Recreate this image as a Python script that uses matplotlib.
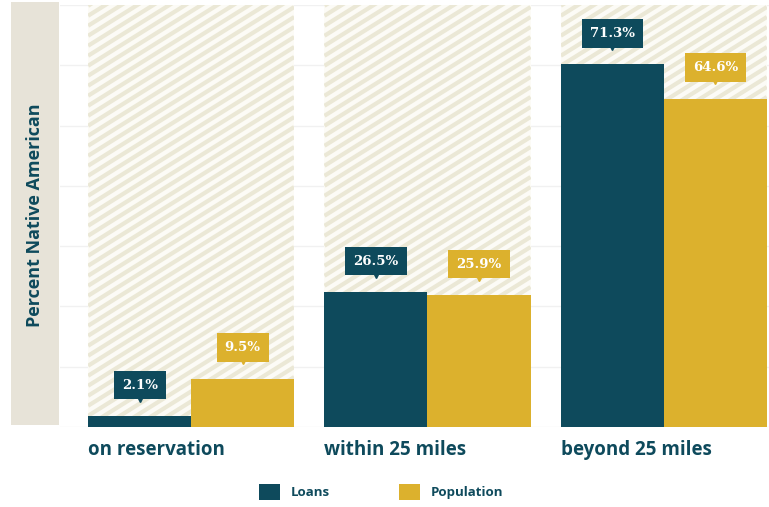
import numpy as np
import matplotlib
matplotlib.use("Agg")
import matplotlib.pyplot as plt
from matplotlib.patches import Rectangle, Patch
from matplotlib.collections import LineCollection
from matplotlib.transforms import offset_copy

categories = ["on reservation", "within 25 miles", "beyond 25 miles"]
loans = [2.1, 26.5, 71.3]
population = [9.5, 25.9, 64.6]
series_names = ["Loans", "Population"]

teal = "#0e4a5c"
gold = "#dcb12d"
stripe = "#ebe8d6"
band = "#e7e3d8"

plt.rcParams["font.family"] = ["Open Sans", "DejaVu Sans"]

fig = plt.figure(figsize=(7.69, 5.07), dpi=100)
fig.patch.set_facecolor("white")

# beige band behind the y label
fig.patches.append(Rectangle((11 / 769, 82 / 507), 48 / 769, 423 / 507,
                             transform=fig.transFigure, facecolor=band,
                             edgecolor="none", zorder=0))
fig.text(35 / 769, 1 - 215 / 507, "Percent Native American", rotation=90,
         ha="center", va="center", color=teal, fontsize=13, fontweight="bold")

ax = fig.add_axes([60 / 769, 80 / 507, 709 / 769, 422 / 507])
ymax = 83
ax.set_ylim(0, ymax)
ax.set_xlim(-0.555, 2.445)
ax.set_yticks(np.linspace(0, ymax, 8))
ax.yaxis.grid(True, color="#f1f1f1", linewidth=1)
ax.set_axisbelow(True)
for s in ax.spines.values():
    s.set_visible(False)
ax.tick_params(left=False, bottom=False, labelleft=False, labelbottom=False)

x = np.arange(len(categories))
gw = 0.872
bw = gw / 2

# striped group backgrounds (stripes drawn in pixel space, clipped to each panel)
bg = ax.bar(x, [ymax] * len(x), width=gw, color="#fcfbf6", linewidth=0, zorder=1)
fig.canvas.draw()
slope = np.tan(np.radians(32))
gap = 10.0
for patch in bg:
    bb = patch.get_window_extent()
    segs = []
    c = bb.y0 - slope * bb.width - gap
    while c < bb.y1 + gap:
        segs.append([(bb.x0, c), (bb.x1, c + slope * bb.width)])
        c += gap
    lc = LineCollection(segs, colors=stripe, linewidths=3.0, transform=None, zorder=1.5)
    ax.add_collection(lc)
    lc.set_clip_path(patch)

ax.bar(x - bw / 2, loans, width=bw, color=teal, zorder=2)
ax.bar(x + bw / 2, population, width=bw, color=gold, zorder=2)

for xs, vals, col in [(x - bw / 2, loans, teal), (x + bw / 2, population, gold)]:
    for xi, v in zip(xs, vals):
        tr_pt = offset_copy(ax.transData, fig=fig, x=0, y=14, units="points")
        ax.plot([xi], [v], marker="v", markersize=7, color=col,
                transform=tr_pt, zorder=3, clip_on=False)
        tr_txt = offset_copy(ax.transData, fig=fig, x=0, y=22.5, units="points")
        ax.text(xi, v, f"{v}%", transform=tr_txt, ha="center", va="center",
                color="white", fontsize=9.5, fontweight="bold",
                family=["DejaVu Serif"],
                bbox=dict(boxstyle="square,pad=0.6", facecolor=col,
                          edgecolor="none"),
                zorder=4, clip_on=False)

for xi, c in zip(x, categories):
    ax.text(xi - gw / 2, -4.5, c, ha="left", va="center", color=teal,
            fontsize=13.5, fontweight="bold")

handles = [Patch(facecolor=teal, edgecolor="none"),
           Patch(facecolor=gold, edgecolor="none")]
fig.legend(handles, series_names, loc="center", bbox_to_anchor=(381 / 769, 1 - 492 / 507),
           ncol=2, frameon=False, handlelength=1.6, handleheight=1.6,
           handletextpad=0.8, columnspacing=5.2, labelcolor=teal,
           prop={"weight": "bold", "size": 9.5})

fig.savefig("out.png", dpi=100)
